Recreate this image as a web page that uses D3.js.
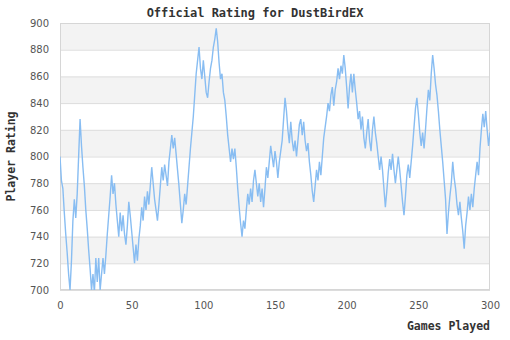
<!DOCTYPE html>
<html>
<head>
<meta charset="utf-8">
<script src="https://cdn.jsdelivr.net/npm/d3@7"></script>
<style>
  body { margin: 0; background: #fff; }
  #svg-container { width: 510px; height: 340px; }
  .y-axis text, .x-axis text { font-family: "DejaVu Sans", sans-serif; font-size: 10px; fill: #555; }
  .title, .axis-title { font-family: "DejaVu Sans Mono", monospace; font-weight: bold; fill: #333; }
</style>
</head>
<body>
<div id="svg-container"></div>
<script>
////////////////////////////  Data  ////////////////////////////
const chartTitle = "Official Rating for DustBirdEX";
const xTitle = "Games Played";
const yTitle = "Player Rating";
const xTicks = [0, 50, 100, 150, 200, 250, 300];
const yTicks = [700, 720, 740, 760, 780, 800, 820, 840, 860, 880, 900];

// rating after each game (game 0 .. 300)
const ratings = [
  800, 782, 776, 758, 742, 728, 712, 700, 722, 752,
  768, 754, 772, 800, 828, 808, 792, 778, 760, 746,
  730, 716, 700, 712, 698, 724, 706, 724, 700, 712,
  724, 712, 726, 742, 756, 770, 786, 772, 780, 764,
  752, 740, 758, 744, 756, 742, 734, 748, 766, 756,
  744, 732, 720, 734, 722, 738, 748, 762, 752, 770,
  760, 774, 764, 778, 792, 780, 768, 760, 752, 764,
  778, 792, 782, 794, 786, 778, 796, 806, 816, 806,
  814, 802, 790, 778, 764, 750, 760, 772, 764, 778,
  792, 806, 818, 830, 846, 862, 872, 882, 866, 858,
  872, 860, 848, 844, 856, 866, 872, 882, 888, 896,
  886, 870, 858, 862, 848, 842, 830, 816, 806, 796,
  806, 798, 806, 792, 776, 762, 750, 740, 752, 746,
  760, 772, 764, 776, 766, 782, 790, 780, 770, 780,
  766, 776, 762, 776, 792, 784, 796, 808, 800, 792,
  804, 796, 784, 796, 804, 812, 828, 844, 834, 820,
  810, 826, 812, 804, 812, 800, 812, 824, 828, 816,
  826, 812, 804, 810, 796, 786, 774, 766, 778, 790,
  782, 796, 786, 800, 814, 822, 830, 840, 834, 846,
  852, 838, 850, 856, 866, 858, 868, 862, 876, 866,
  852, 836, 852, 862, 848, 862, 850, 840, 828, 834,
  820, 830, 814, 806, 818, 828, 812, 804, 820, 830,
  818, 810, 800, 790, 800, 790, 776, 762, 774, 788,
  798, 790, 802, 790, 780, 790, 800, 790, 778, 766,
  756, 770, 786, 794, 784, 796, 808, 822, 836, 844,
  832, 818, 808, 818, 806, 820, 836, 850, 842, 862,
  876, 866, 854, 846, 834, 820, 808, 796, 782, 768,
  742, 758, 770, 780, 796, 784, 776, 764, 756, 766,
  754, 744, 731, 748, 758, 770, 760, 772, 762, 776,
  786, 796, 786, 806, 820, 832, 822, 834, 820, 808,
  818
];
const data = ratings.map((r, i) => ({ game: i, rating: r }));

////////////////////////////  Init  ////////////////////////////
const width = 510;
const height = 340;
const margin = { top: 23, right: 20, bottom: 50, left: 60 };

const svg = d3.select("#svg-container").append("svg")
  .attr("width", width)
  .attr("height", height);

const xScale = d3.scaleLinear().domain([0, 300]).range([margin.left, width - margin.right]);
const yScale = d3.scaleLinear().domain([700, 900]).range([height - margin.bottom, margin.top]);

// stripes (gray every other band, top band gray)
const bands = yTicks.slice(0, -1).map((v, i) => ({ lo: v, hi: yTicks[i + 1], i }));
svg.append("g")
  .selectAll("rect")
  .data(bands)
  .join("rect")
  .attr("x", margin.left)
  .attr("width", width - margin.left - margin.right)
  .attr("y", (d) => yScale(d.hi))
  .attr("height", (d) => yScale(d.lo) - yScale(d.hi))
  .attr("fill", (d) => (d.i % 2 === 1 ? "#f3f3f3" : "#ffffff"));

// axes
const yAxis = d3.axisLeft(yScale)
  .tickValues(yTicks)
  .tickSize(-(width - margin.left - margin.right))
  .tickPadding(11);

const xAxis = d3.axisBottom(xScale)
  .tickValues(xTicks)
  .tickSize(0)
  .tickPadding(12);

svg.append("g")
  .attr("class", "y-axis")
  .attr("transform", `translate(${margin.left},0)`)
  .call(yAxis)
  .call((g) => g.select(".domain").remove())
  .call((g) => g.selectAll("line").attr("stroke", "#dcdcdc"));

svg.append("g")
  .attr("class", "x-axis")
  .attr("transform", `translate(0,${height - margin.bottom})`)
  .call(xAxis)
  .call((g) => g.select(".domain").remove());

// plot border
svg.append("rect")
  .attr("x", margin.left + 0.5)
  .attr("y", margin.top + 0.5)
  .attr("width", width - margin.left - margin.right - 1)
  .attr("height", height - margin.top - margin.bottom - 1)
  .attr("fill", "none")
  .attr("stroke", "#d6d6d6");

// line, clipped to plot
svg.append("clipPath").attr("id", "clip")
  .append("rect")
  .attr("x", margin.left)
  .attr("y", margin.top)
  .attr("width", width - margin.left - margin.right)
  .attr("height", height - margin.top - margin.bottom);

const line = d3.line()
  .x((d) => xScale(d.game))
  .y((d) => yScale(d.rating));

svg.append("path")
  .datum(data)
  .attr("clip-path", "url(#clip)")
  .attr("d", line)
  .attr("fill", "none")
  .attr("stroke", "#88bdf2")
  .attr("stroke-width", 1.4);

// titles
svg.append("text")
  .attr("class", "title")
  .attr("x", 255)
  .attr("y", 17)
  .attr("text-anchor", "middle")
  .style("font-size", "12px")
  .text(chartTitle);

svg.append("text")
  .attr("class", "axis-title")
  .attr("x", width - margin.right)
  .attr("y", 330)
  .attr("text-anchor", "end")
  .style("font-size", "11.5px")
  .text(xTitle);

svg.append("text")
  .attr("class", "axis-title")
  .attr("transform", `translate(15,${(margin.top + height - margin.bottom) / 2}) rotate(-90)`)
  .attr("text-anchor", "middle")
  .style("font-size", "11.5px")
  .text(yTitle);
</script>
</body>
</html>
